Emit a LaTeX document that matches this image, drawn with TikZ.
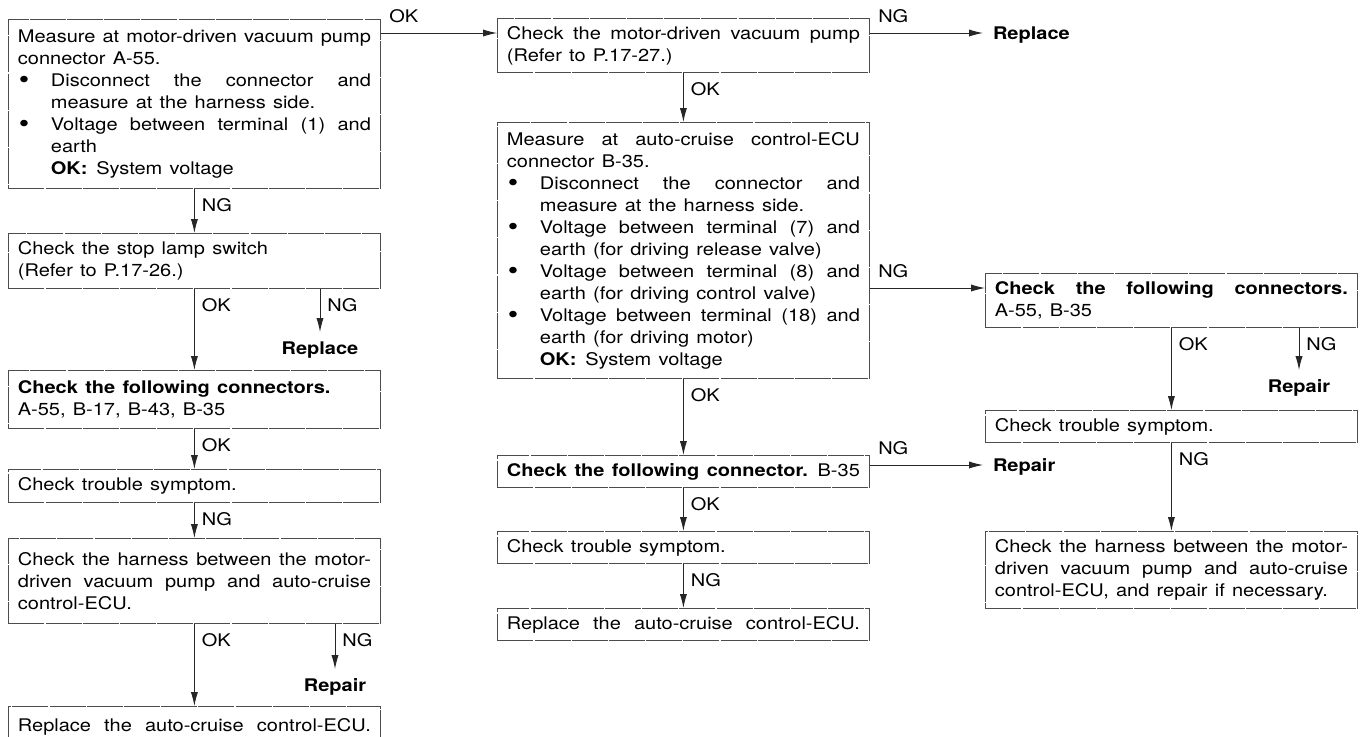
\documentclass[tikz,border=0pt]{standalone}
\usepackage{fontspec}
\setmainfont{TeX Gyre Heros}[FakeStretch=1.15, WordSpace=1.3]
\usepackage{tikz}
\usetikzlibrary{arrows.meta,calc}

\newcommand{\txtsize}{\fontsize{8.7}{11}\selectfont\setlength{\parindent}{0pt}}
\newcommand{\bulitem}[1]{\par\hangindent=16.5pt\hangafter=1\noindent\makebox[16.5pt][l]{\hspace{0.5pt}\raisebox{-1.3pt}{\fontsize{13}{11}\selectfont\textbullet}}#1\par}
\newcommand{\okvolt}{\par\noindent\hspace*{16.5pt}\textbf{OK:}\enspace System voltage}
\newcommand{\fullline}[1]{\makebox[\hsize][s]{#1}}

\begin{document}
\begin{tikzpicture}[
    x=0.5pt, y=-0.5pt,
    box/.style={draw=black!70, dash pattern=on 18pt off 0.6pt, line width=0.4pt, anchor=north west, text width=176.5pt, align=justify, inner xsep=4.75pt, inner ysep=0pt, font=\txtsize},
    arr/.style={-{Latex[length=7pt,width=3.6pt]}, line width=0.45pt, black!85},
    lbl/.style={inner sep=0pt, text height=6.3pt, text depth=0pt, font=\txtsize, black},
    vlbl/.style={lbl, at start, anchor=north west, xshift=3.5pt, yshift=-5pt},
    hlbl/.style={lbl, at start, anchor=south west, xshift=4pt, yshift=5pt},
    endtxt/.style={inner sep=0pt, outer sep=5pt, text height=6.3pt, text depth=0pt, font=\txtsize\bfseries}
]
    \useasboundingbox (0,0) rectangle (1364,736);

    \node[box, minimum height=84.5pt] (meas1) at (8,19) {Measure at motor-driven vacuum pump\linebreak connector A-55.
        \bulitem{Disconnect the connector and\linebreak measure at the harness side.}
        \bulitem{Voltage between terminal (1) and\linebreak earth}
        \okvolt};
    \node[box, minimum height=27.5pt] (lamp) at (8,233) {Check the stop lamp switch\newline (Refer to P.17-26.)};
    \node[box, minimum height=29pt] (conn1) at (8,370) {\textbf{Check the following connectors.}\newline A-55, B-17, B-43, B-35};
    \node[box, minimum height=16.5pt] (symp1) at (8,469) {Check trouble symptom.};
    \node[box, minimum height=42.5pt] (harn1) at (8,538) {Check the harness between the motor-\linebreak driven vacuum pump and auto-cruise\linebreak control-ECU.};
    \node[box, minimum height=20pt] (ecu1) at (8,706) {\fullline{Replace the auto-cruise control-ECU.}};

    \node[box, minimum height=27pt] (pump) at (497,18) {Check the motor-driven vacuum pump\linebreak (Refer to P.17-27.)};
    \node[box, minimum height=128pt] (meas2) at (497,122) {Measure at auto-cruise control-ECU\linebreak connector B-35.
        \bulitem{Disconnect the connector and\linebreak measure at the harness side.}
        \bulitem{Voltage between terminal (7) and\linebreak earth (for driving release valve)}
        \bulitem{Voltage between terminal (8) and\linebreak earth (for driving control valve)}
        \bulitem{Voltage between terminal (18) and\linebreak earth (for driving motor)}
        \okvolt};
    \node[box, minimum height=16pt] (conn2) at (497,455) {\fullline{\textbf{Check the following connector.} B-35}};
    \node[box, minimum height=16pt] (symp2) at (497,531) {Check trouble symptom.};
    \node[box, minimum height=16pt] (ecu2) at (497,608) {\fullline{Replace the auto-cruise control-ECU.}};

    \node[box, minimum height=27pt] (conn3) at (985,273) {\textbf{Check the following connectors.}\linebreak A-55, B-35};
    \node[box, minimum height=16pt] (symp3) at (985,410) {Check trouble symptom.};
    \node[box, minimum height=38.5pt] (harn3) at (985,531) {Check the harness between the motor-\linebreak driven vacuum pump and auto-cruise\linebreak control-ECU, and repair if necessary.};

    \node[endtxt, anchor=west] (repl1) at (983,33) {Replace};
    \node[endtxt, anchor=north] (repl2) at (320,332) {Replace};
    \node[endtxt, anchor=north] (rep1) at (335,669) {Repair};
    \node[endtxt, anchor=north] (rep2) at (1299,370) {Repair};
    \node[endtxt, anchor=west] (rep3) at (983,465) {Repair};

    \coordinate (in1) at ($(pump.north west)+(0,15)$);
    \coordinate (in2) at ($(conn3.north west)+(0,15)$);

    \draw[arr] (meas1.east |- in1) -- node[hlbl] {OK} (in1);
    \draw[arr] (meas1) -- node[vlbl] {NG} (lamp);
    \draw[arr] (lamp) -- node[vlbl] {OK} (conn1);
    \draw[arr] (lamp.south -| repl2.north) -- node[vlbl] {NG} (repl2.north);
    \draw[arr] (conn1) -- node[vlbl] {OK} (symp1);
    \draw[arr] (symp1) -- node[vlbl] {NG} (harn1);
    \draw[arr] (harn1) -- node[vlbl] {OK} (ecu1);
    \draw[arr] (harn1.south -| rep1.north) -- node[vlbl] {NG} (rep1.north);

    \draw[arr] (pump.east |- repl1.west) -- node[hlbl] {NG} (repl1.west);
    \draw[arr] (pump) -- node[vlbl] {OK} (meas2);
    \draw[arr] (meas2.east |- in2) -- node[hlbl] {NG} (in2);
    \draw[arr] (meas2) -- node[vlbl] {OK} (conn2);
    \draw[arr] (conn2.east |- rep3.west) -- node[hlbl] {NG} (rep3.west);
    \draw[arr] (conn2) -- node[vlbl] {OK} (symp2);
    \draw[arr] (symp2) -- node[vlbl] {NG} (ecu2);

    \draw[arr] (conn3) -- node[vlbl] {OK} (symp3);
    \draw[arr] (conn3.south -| rep2.north) -- node[vlbl] {NG} (rep2.north);
    \draw[arr] (symp3) -- node[vlbl] {NG} (harn3);
\end{tikzpicture}
\end{document}
